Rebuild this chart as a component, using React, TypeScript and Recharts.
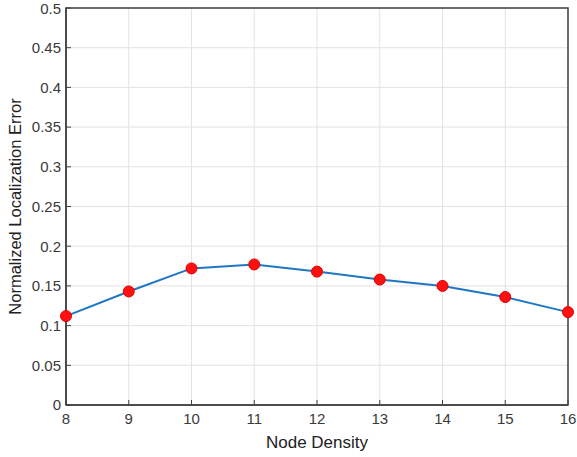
import { LineChart, Line, XAxis, YAxis, CartesianGrid, Label, ReferenceArea } from 'recharts'

const density = [8, 9, 10, 11, 12, 13, 14, 15, 16]
const errorValues = [0.112, 0.143, 0.172, 0.177, 0.168, 0.158, 0.15, 0.136, 0.117]
const xTicks = [8, 9, 10, 11, 12, 13, 14, 15, 16]
const yTicks = [0, 0.05, 0.1, 0.15, 0.2, 0.25, 0.3, 0.35, 0.4, 0.45, 0.5]

const data = density.map((d, i) => ({ x: d, y: errorValues[i] }))

const axisColor = '#404040'
const font = 'Liberation Sans, Arial, sans-serif'
const tickFont = { fontSize: 15, fill: '#3a3a3a', fontFamily: font }

// y label, rotated beside the plot area
const YTitle = (props: any) => {
  const vb = props.viewBox || {}
  const cx = 15
  const cy = vb.y + vb.height / 2
  return (
    <text
      x={cx}
      y={cy}
      transform={`rotate(-90, ${cx}, ${cy})`}
      textAnchor="middle"
      dominantBaseline="central"
      fontSize={16.5}
      fill="#222"
      fontFamily={font}
    >
      Normalized Localization Error
    </text>
  )
}

export default function App() {
  return (
    <div style={{ position: 'absolute', left: 0, top: 0, background: '#fff' }}>
      <LineChart
        width={577}
        height={457}
        data={data}
        margin={{ top: 8, right: 9, left: 8, bottom: 0 }}
      >
        <CartesianGrid xAxisId="bottom" yAxisId="left" stroke="#e3e3e3" strokeWidth={1} />
        <XAxis
          xAxisId="bottom"
          dataKey="x"
          type="number"
          domain={[8, 16]}
          ticks={xTicks}
          height={52}
          axisLine={{ stroke: axisColor, strokeWidth: 1.5 }}
          tickLine={{ stroke: axisColor, strokeWidth: 1 }}
          tickSize={-5}
          tickMargin={13}
          tick={tickFont}
        >
          <Label
            value="Node Density"
            position="insideBottom"
            offset={9}
            style={{ fontSize: 17, fill: '#222', fontFamily: font }}
          />
        </XAxis>
        <YAxis
          yAxisId="left"
          type="number"
          domain={[0, 0.5]}
          ticks={yTicks}
          width={58}
          axisLine={{ stroke: axisColor, strokeWidth: 1.5 }}
          tickLine={{ stroke: axisColor, strokeWidth: 1 }}
          tickSize={-5}
          tickMargin={10}
          tick={tickFont}
          tickFormatter={(v) => `${v}`}
        >
          <Label content={YTitle} />
        </YAxis>
        {/* box around the plot area */}
        <ReferenceArea
          xAxisId="bottom"
          yAxisId="left"
          x1={8}
          x2={16}
          y1={0}
          y2={0.5}
          fill="none"
          stroke={axisColor}
          strokeWidth={1.5}
          ifOverflow="visible"
        />
        <Line
          xAxisId="bottom"
          yAxisId="left"
          dataKey="y"
          stroke="#1f77c4"
          strokeWidth={2}
          dot={{ r: 5.5, fill: '#ff1010', stroke: '#e00000', strokeWidth: 1 }}
          isAnimationActive={false}
        />
      </LineChart>
    </div>
  )
}
